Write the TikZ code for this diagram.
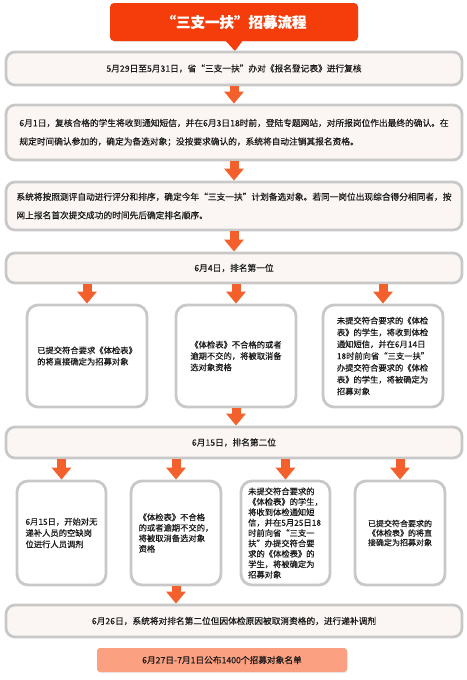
\documentclass[tikz,border=0pt]{standalone}
\usepackage{fontspec}
\setmainfont{Noto Sans CJK SC}[FakeBold=0.35]
\usetikzlibrary{arrows.meta,shadows}
\definecolor{titlered}{HTML}{F53D0C}
\definecolor{arr}{HTML}{F4602C}
\definecolor{boxfill}{HTML}{FBF6F3}
\definecolor{boxline}{HTML}{C8C8C8}
\definecolor{salmon}{HTML}{FBA080}
\definecolor{txt}{HTML}{1A1A1A}
\begin{document}
\begin{tikzpicture}[x=1pt,y=-1pt,
  wide/.style={draw=boxline,line width=2.8pt,fill=boxfill,rounded corners=9pt,
    minimum width=456pt,inner sep=0pt,align=left,text=txt,
    font=\fontsize{8.7}{18.5}\selectfont},
  sub/.style={draw=boxline,line width=2.8pt,fill=white,rounded corners=11pt,
    inner sep=0pt,align=left,text=txt,font=\fontsize{8.3}{11.3}\selectfont},
  flowarrow/.style={draw=arr,line width=9pt,-{Triangle[width=19pt,length=12pt]}},
]
\useasboundingbox (0,0) rectangle (466,680);
% title
\node[fill=titlered,rounded corners=4pt,minimum width=248pt,minimum height=38pt,
  text=white,font=\fontsize{14.5}{16}\selectfont\bfseries,
  drop shadow={opacity=0.15,shadow xshift=0.6pt,shadow yshift=-1pt}] (title) at (234,22) {“三支一扶”招募流程};
\coordinate (tip) at (235,51);
\fill[titlered] (title.south) ++(-9,-1) -- ++(18,0) -- (tip) -- cycle;
% wide boxes
\node[wide,minimum height=33pt] (b1) at (234,68.5) {5月29日至5月31日，省“三支一扶”办对《报名登记表》进行复核};
\node[wide,minimum height=55pt] (b2) at (234,132.5) {6月1日，复核合格的学生将收到通知短信，并在6月3日18时前，登陆专题网站，对所报岗位作出最终的确认。在\\规定时间确认参加的，确定为备选对象；没按要求确认的，系统将自动注销其报名资格。};
\node[wide,minimum height=48pt] (b3) at (234,206) {系统将按照测评自动进行评分和排序，确定今年“三支一扶”计划备选对象。若同一岗位出现综合得分相同者，按\\网上报名首次提交成功的时间先后确定排名顺序。};
\node[wide,minimum height=30pt] (b4) at (234,268) {6月4日，排名第一位};
% first rank sub boxes
\node[sub,minimum width=120pt,minimum height=102pt] (A) at (87,356) {已提交符合要求《体检表》\\的将直接确定为招募对象};
\node[sub,minimum width=120pt,minimum height=102pt] (B) at (236,356) {《体检表》不合格的或者\\逾期不交的，将被取消备\\选对象资格};
\node[sub,minimum width=120pt,minimum height=102pt,font=\fontsize{8.3}{11.8}\selectfont] (C) at (383,356) {未提交符合要求的《体检\\表》的学生，将收到体检\\通知短信，并在6月14日\\18时前向省“三支一扶”\\办提交符合要求的《体检\\表》的学生，将被确定为\\招募对象};
\node[wide,minimum height=31pt] (b5) at (234,442.5) {6月15日，排名第二位};
% second rank sub boxes
\node[sub,minimum width=89pt,minimum height=104pt] (D) at (61.5,533) {6月15日，开始对无\\递补人员的空缺岗\\位进行人员调剂};
\node[sub,minimum width=90pt,minimum height=104pt,font=\fontsize{8.3}{10.5}\selectfont] (E) at (176,533) {《体检表》不合格\\的或者逾期不交的，\\将被取消备选对象\\资格};
\node[sub,minimum width=89pt,minimum height=104pt,font=\fontsize{8.3}{10.4}\selectfont] (F) at (285.5,533) {未提交符合要求的\\《体检表》的学生，\\将收到体检通知短\\信，并在5月25日18\\时前向省“三支一\\扶”办提交符合要\\求的《体检表》的\\学生，将被确定为\\招募对象};
\node[sub,minimum width=90pt,minimum height=104pt,font=\fontsize{8}{9.5}\selectfont] (G) at (400,533) {已提交符合要求的\\《体检表》的将直\\接确定为招募对象};
\node[wide,minimum height=32pt] (b6) at (234,621) {6月26日，系统将对排名第二位但因体检原因被取消资格的，进行递补调剂};
\node[fill=salmon,rounded corners=3pt,minimum width=250pt,minimum height=24pt,text=txt,
  font=\fontsize{8.7}{10}\selectfont,
  drop shadow={opacity=0.15,shadow xshift=0.6pt,shadow yshift=-1pt}] (fin) at (222,660) {6月27日-7月1日公布1400个招募对象名单};
% arrows
\draw[flowarrow] (b1.south) -- (b2.north);
\draw[flowarrow] (b2.south) -- (b3.north);
\draw[flowarrow] (b3.south) -- (b4.north);
\draw[flowarrow] (b4.south -| A.north) -- (A.north);
\draw[flowarrow] (b4.south -| B.north) -- (B.north);
\draw[flowarrow] (b4.south -| C.north) -- (C.north);
\draw[flowarrow] (B.south) -- (B.south |- b5.north);
\draw[flowarrow] (b5.south -| D.north) -- (D.north);
\draw[flowarrow] (b5.south -| E.north) -- (E.north);
\draw[flowarrow] (b5.south -| F.north) -- (F.north);
\draw[flowarrow] (b5.south -| G.north) -- (G.north);
\draw[flowarrow] (E.south) -- (E.south |- b6.north);
\end{tikzpicture}
\end{document}
